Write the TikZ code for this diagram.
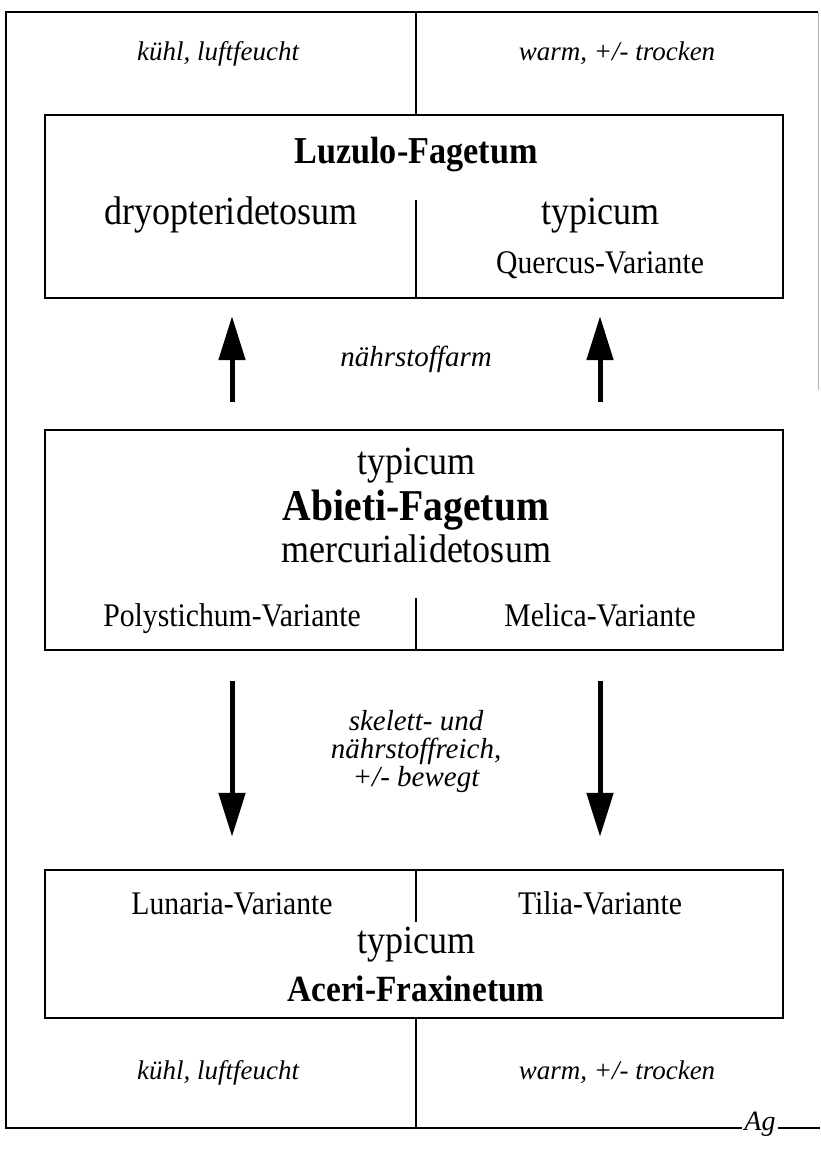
\documentclass[tikz,border=0pt]{standalone}
\usepackage{fontspec}
\setmainfont{Liberation Serif}[FakeStretch=0.9]
\newfontfamily\notefont{Liberation Serif}
\usetikzlibrary{arrows.meta,calc}
\begin{document}
\begin{tikzpicture}[x=1pt,y=-1pt,
  box/.style={draw, line width=2.4pt, minimum width=738pt, inner sep=0pt},
  divider/.style={line width=1.8pt},
  bigarrow/.style={line width=5pt, -{Triangle[length=44pt,width=26pt]}},
  lbl/.style={inner sep=0pt, anchor=base},
  note/.style={lbl, font=\notefont\fontsize{27}{28}\selectfont\itshape},
  arrnote/.style={inner sep=0pt, font=\notefont\fontsize{29}{28}\selectfont\itshape, align=center},
  big/.style={lbl, font=\fontsize{40}{44}\selectfont},
  small/.style={lbl, font=\fontsize{33}{36}\selectfont},
  title/.style={lbl, font=\fontsize{38}{42}\selectfont\bfseries}]
\useasboundingbox (0,0) rectangle (820,1156);
% frame
\coordinate (ftop) at (416,12);
\coordinate (fbot) at (416,1128);
\draw[line width=2pt] (818,12) -- (6,12) -- (6,1128) -- (820,1128);
\draw[gray!60, line width=1pt] (818,12) -- (818,390);
% boxes
\node[box, minimum height=183pt] (tb) at (414,206.5) {};
\node[box, minimum height=220pt] (mb) at (414,540) {};
\node[box, minimum height=148pt] (bb) at (414,944) {};
% dividers
\coordinate (tdv) at (416,200);
\coordinate (mdv) at (416,598);
\coordinate (bdv) at (416,922);
\draw[divider] (ftop) -- (tb.north -| ftop);
\draw[divider] (tdv) -- (tb.south -| ftop);
\draw[divider] (mdv) -- (mb.south -| ftop);
\draw[divider] (bb.north -| ftop) -- (bdv);
\draw[divider] (bb.south -| ftop) -- (fbot);
% header notes
\node[note] (hl) at (218,61) {kühl, luftfeucht};
\node[note] (hr) at (617,61) {warm, +/- trocken};
% top box
\node[title] (luz) at (416,163) {Luzulo-Fagetum};
\node[big] (dry) at (231,224) {dryopteridetosum};
\node[big] (typ1) at (600,224) {typicum};
\node[small] (que) at (600,273) {Quercus-Variante};
% arrows up
\coordinate (ax1) at (232,0);
\coordinate (ax2) at (600,0);
\draw[bigarrow, shorten <=27pt, shorten >=17pt] (mb.north -| ax1) -- (tb.south -| ax1);
\draw[bigarrow, shorten <=27pt, shorten >=17pt] (mb.north -| ax2) -- (tb.south -| ax2);
\node[lbl, font=\notefont\fontsize{29}{30}\selectfont\itshape] (arm) at (416,366) {nährstoffarm};
% middle box
\node[big] (typ2) at (416,474) {typicum};
\node[lbl, font=\fontsize{44}{48}\selectfont\bfseries] (abi) at (416,520) {Abieti-Fagetum};
\node[big] (mer) at (416,562) {mercurialidetosum};
\node[small] (pol) at (232,626) {Polystichum-Variante};
\node[small] (mel) at (600,626) {Melica-Variante};
% arrows down
\draw[bigarrow, shorten <=30pt, shorten >=32pt] (mb.south -| ax1) -- (bb.north -| ax1);
\draw[bigarrow, shorten <=30pt, shorten >=32pt] (mb.south -| ax2) -- (bb.north -| ax2);
\node[arrnote] (rei) at (416,752) {skelett- und\\nährstoffreich,\\+/- bewegt};
% bottom box
\node[small] (lun) at (232,914) {Lunaria-Variante};
\node[small] (til) at (600,914) {Tilia-Variante};
\node[big] (typ3) at (416,953) {typicum};
\node[lbl, font=\fontsize{37}{40}\selectfont\bfseries] (ace) at (416,1001) {Aceri-Fraxinetum};
% footer notes
\node[note] (fl) at (218,1079) {kühl, luftfeucht};
\node[note] (fr) at (617,1079) {warm, +/- trocken};
\node[lbl, anchor=center, fill=white, inner sep=2pt, font=\notefont\fontsize{28}{28}\selectfont\itshape] (sig) at (760,1124) {Ag};
\end{tikzpicture}
\end{document}
